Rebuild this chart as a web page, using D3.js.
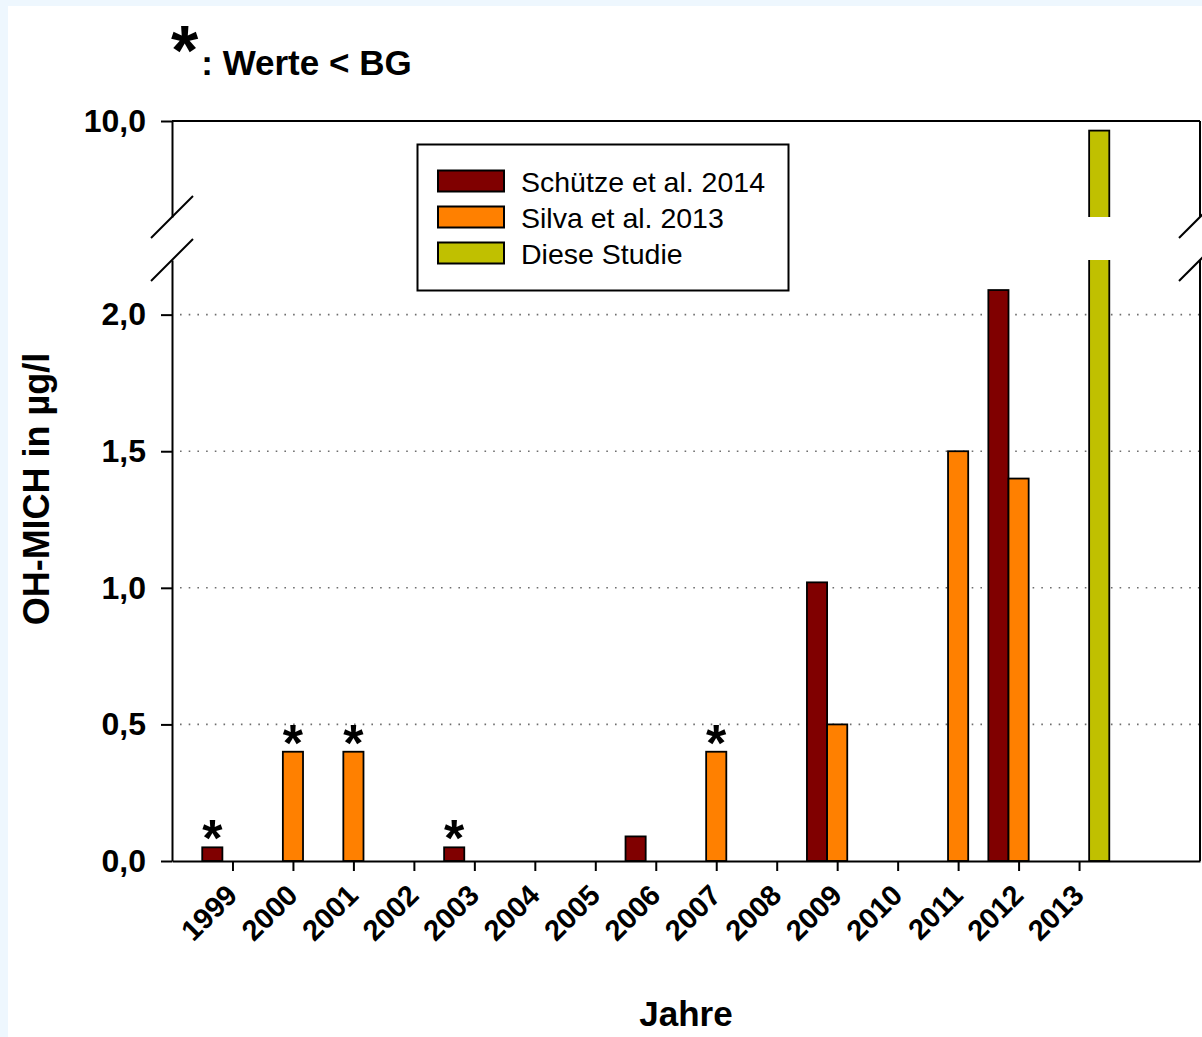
<!DOCTYPE html>
<html>
<head>
<meta charset="utf-8">
<script src="https://cdn.jsdelivr.net/npm/d3@7"></script>
<style>
    html, body { margin: 0; padding: 0; background: #eef7fe; }
    svg { display: block; }
    text { font-family: Arial, "Liberation Sans", sans-serif; fill: #000; }
</style>
</head>
<body>
<div id="grafica"></div>
<script>
"use strict";

// datos
const years = [1999, 2000, 2001, 2002, 2003, 2004, 2005, 2006, 2007, 2008, 2009, 2010, 2011, 2012, 2013];
const seriesNames = ["Schütze et al. 2014", "Silva et al. 2013", "Diese Studie"];
const seriesColors = ["#800000", "#ff8000", "#c0c000"];
const schuetze = [0.05, null, null, null, 0.05, null, null, 0.09, null, null, 1.02, null, null, 2.09, null];
const silva = [null, 0.4, 0.4, null, null, null, null, null, 0.4, null, 0.5, null, 1.5, 1.4, null];
const dieseStudie = [null, null, null, null, null, null, null, null, null, null, null, null, null, null, 9.8];
const schuetzeBelowBG = [1999, 2003];
const silvaBelowBG = [2000, 2001, 2007];
const lowTicks = [0, 0.5, 1.0, 1.5, 2.0];
const highTicks = [10.0];
const gridTicks = [0.5, 1.0, 1.5, 2.0];

const W = 1202, H = 1037;
const P = { left: 172, right: 1200, top: 121, breakHigh: 217, breakLow: 260, bottom: 861 };

const svg = d3.select("#grafica").append("svg")
    .attr("width", W)
    .attr("height", H);

// fondo
svg.append("rect").attr("x", 0).attr("y", 0).attr("width", W).attr("height", H).attr("fill", "#eef7fe");
svg.append("rect").attr("x", 8).attr("y", 6).attr("width", W - 8).attr("height", H - 6).attr("fill", "#fff");

// escalas
const x = d3.scaleLinear().domain([1998, 2015]).range([P.left, P.right]);
const sub = d3.scaleBand().domain(seriesNames).range([-0.5, 0.5]);
const yLow = d3.scaleLinear().domain([0, 2.2]).range([P.bottom, P.breakLow]);
const yHigh = d3.scaleLinear().domain([8, 10]).range([P.breakHigh, P.top]);

const fmt = (d) => d3.format(".1f")(d).replace(".", ",");

// clips para el eje cortado
const defs = svg.append("defs");
defs.append("clipPath").attr("id", "clip-low")
    .append("rect").attr("x", P.left).attr("y", P.breakLow).attr("width", P.right - P.left).attr("height", P.bottom - P.breakLow + 2);
defs.append("clipPath").attr("id", "clip-high")
    .append("rect").attr("x", P.left).attr("y", P.top - 2).attr("width", P.right - P.left).attr("height", P.breakHigh - P.top + 2);

// lineas punteadas
svg.append("g").selectAll("line")
    .data(gridTicks).enter()
    .append("line")
    .attr("x1", P.left + 8)
    .attr("x2", P.right)
    .attr("y1", (d) => yLow(d))
    .attr("y2", (d) => yLow(d))
    .attr("stroke", "#6e6e6e")
    .attr("stroke-width", 1.6)
    .attr("stroke-dasharray", "1.6,7.1");

// barras
const valores = [schuetze, silva, dieseStudie];
let barras = [];
valores.forEach(function (serie, s) {
    serie.forEach(function (v, i) {
        if (v != null) barras.push({ serie: seriesNames[s], color: seriesColors[s], year: years[i], valor: v });
    });
});

const barX = (d) => x(d.year + sub(d.serie));
const barW = (d) => x(d.year + sub(d.serie) + sub.bandwidth()) - barX(d);

svg.append("g").attr("clip-path", "url(#clip-low)")
    .selectAll("rect")
    .data(barras).enter()
    .append("rect")
    .attr("x", barX)
    .attr("width", barW)
    .attr("y", (d) => d.valor > 2.2 ? P.breakLow - 10 : yLow(d.valor))
    .attr("height", (d) => yLow(0) - (d.valor > 2.2 ? P.breakLow - 10 : yLow(d.valor)))
    .attr("fill", (d) => d.color)
    .attr("stroke", "#000")
    .attr("stroke-width", 1.8);

svg.append("g").attr("clip-path", "url(#clip-high)")
    .selectAll("rect")
    .data(barras.filter((d) => d.valor > 2.2)).enter()
    .append("rect")
    .attr("x", barX)
    .attr("width", barW)
    .attr("y", (d) => yHigh(d.valor))
    .attr("height", (d) => P.breakHigh + 10 - yHigh(d.valor))
    .attr("fill", (d) => d.color)
    .attr("stroke", "#000")
    .attr("stroke-width", 1.8);

// asteriscos (< BG)
let estrellas = [];
schuetzeBelowBG.forEach((yr) => estrellas.push({ serie: seriesNames[0], year: yr, valor: schuetze[years.indexOf(yr)] }));
silvaBelowBG.forEach((yr) => estrellas.push({ serie: seriesNames[1], year: yr, valor: silva[years.indexOf(yr)] }));

svg.append("g").selectAll("text")
    .data(estrellas).enter()
    .append("text")
    .attr("x", (d) => barX(d) + barW(d) / 2)
    .attr("y", (d) => yLow(d.valor) + 9)
    .attr("text-anchor", "middle")
    .style("font-size", "52px")
    .style("font-weight", "bold")
    .text("*");

// ejes
const ejeStyle = function (g) {
    g.selectAll("path.domain").attr("stroke", "#000").attr("stroke-width", 2);
    g.selectAll(".tick line").attr("stroke", "#000").attr("stroke-width", 2);
    g.selectAll("text").style("font-weight", "bold").attr("fill", "#000");
};

svg.append("g")
    .attr("transform", "translate(" + P.left + ",0)")
    .call(d3.axisLeft(yLow).tickValues(lowTicks).tickFormat(fmt).tickSize(11).tickSizeOuter(0).tickPadding(15))
    .call(ejeStyle)
    .selectAll("text").style("font-size", "32px");

svg.append("g")
    .attr("transform", "translate(" + P.left + ",0)")
    .call(d3.axisLeft(yHigh).tickValues(highTicks).tickFormat(fmt).tickSize(11).tickSizeOuter(0).tickPadding(15))
    .call(ejeStyle)
    .selectAll("text").style("font-size", "32px");

const ejeX = svg.append("g")
    .attr("transform", "translate(0," + P.bottom + ")")
    .call(d3.axisBottom(x).tickValues(years).tickFormat(d3.format("d")).tickSize(10).tickSizeOuter(0))
    .call(ejeStyle);
ejeX.selectAll("text")
    .style("font-size", "29px")
    .attr("text-anchor", "end")
    .attr("y", 0)
    .attr("dy", 0)
    .attr("transform", "translate(6,36) rotate(-45)");

// marco derecho y superior
const marco = svg.append("g").attr("stroke", "#000").attr("stroke-width", 2).attr("fill", "none");
marco.append("line").attr("x1", P.left).attr("x2", P.right).attr("y1", P.top).attr("y2", P.top);
marco.append("line").attr("x1", P.right).attr("x2", P.right).attr("y1", P.top).attr("y2", P.breakHigh);
marco.append("line").attr("x1", P.right).attr("x2", P.right).attr("y1", P.breakLow).attr("y2", P.bottom);

// marcas de corte
[P.left, P.right].forEach(function (cx) {
    [P.breakHigh, P.breakLow].forEach(function (cy) {
        marco.append("line")
            .attr("x1", cx - 21).attr("y1", cy + 21)
            .attr("x2", cx + 21).attr("y2", cy - 21);
    });
});

// leyenda
const leyenda = svg.append("g").attr("class", "leyenda");
leyenda.append("rect")
    .attr("x", 417.5).attr("y", 144.5).attr("width", 371).attr("height", 146)
    .attr("fill", "#fff").attr("stroke", "#000").attr("stroke-width", 2);
const item = leyenda.selectAll(".item")
    .data(seriesNames).enter()
    .append("g")
    .attr("class", "item")
    .attr("transform", (d, i) => "translate(438," + (170.5 + i * 36) + ")");
item.append("rect")
    .attr("width", 66).attr("height", 21)
    .attr("fill", (d, i) => seriesColors[i])
    .attr("stroke", "#000").attr("stroke-width", 2);
item.append("text")
    .attr("x", 83).attr("y", 21)
    .style("font-size", "28.5px")
    .text((d) => d);

// titulos
const nota = svg.append("text")
    .attr("x", 171).attr("y", 75)
    .style("font-weight", "bold");
nota.append("tspan").style("font-size", "70px").text("*");
nota.append("tspan").attr("dx", 3).style("font-size", "35px").text(": Werte < BG");

svg.append("text")
    .attr("transform", "translate(49,489) rotate(-90)")
    .attr("text-anchor", "middle")
    .style("font-size", "36px")
    .style("font-weight", "bold")
    .text("OH-MICH in µg/l");

svg.append("text")
    .attr("x", 686).attr("y", 1026)
    .attr("text-anchor", "middle")
    .style("font-size", "35px")
    .style("font-weight", "bold")
    .text("Jahre");
</script>
</body>
</html>
